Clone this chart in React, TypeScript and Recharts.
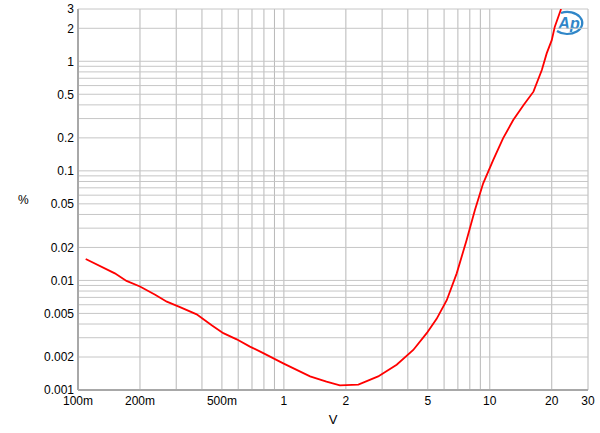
import React from 'react';
import { LineChart, Line, XAxis, YAxis, ReferenceLine, Customized } from 'recharts';

// distortion vs output voltage
const volts = [0.109, 0.151, 0.172, 0.2, 0.237, 0.27, 0.313, 0.377, 0.446, 0.508, 0.59, 0.684, 0.794, 0.993, 1.34, 1.61, 1.87, 2.3, 2.87, 3.53, 4.25, 4.94, 5.52, 6.18, 6.91, 7.72, 8.47, 9.29, 10.4, 11.6, 13.0, 14.6, 16.3, 17.9, 18.9, 20.0, 20.7, 22.2];
const percent = [0.0157, 0.0116, 0.0099, 0.0088, 0.0074, 0.0064, 0.0057, 0.0049, 0.0039, 0.0033, 0.0029, 0.00249, 0.00217, 0.00175, 0.00133, 0.00119, 0.0011, 0.00112, 0.00133, 0.0017, 0.00232, 0.0033, 0.00446, 0.0066, 0.0116, 0.0234, 0.044, 0.077, 0.126, 0.198, 0.291, 0.399, 0.528, 0.832, 1.18, 1.56, 2.07, 3.0];

const xTicks = [0.1, 0.2, 0.5, 1, 2, 5, 10, 20, 30];
const xTickLabels = ['100m', '200m', '500m', '1', '2', '5', '10', '20', '30'];
const yTicks = [0.001, 0.002, 0.005, 0.01, 0.02, 0.05, 0.1, 0.2, 0.5, 1, 2, 3];

const xGrid = [0.1, 0.2, 0.3, 0.4, 0.5, 0.6, 0.7, 0.8, 0.9, 1, 2, 3, 4, 5, 6, 7, 8, 9, 10, 20, 30];
const yGrid = [0.001, 0.002, 0.003, 0.004, 0.005, 0.006, 0.007, 0.008, 0.009, 0.01, 0.02, 0.03, 0.04, 0.05, 0.06, 0.07, 0.08, 0.09, 0.1, 0.2, 0.3, 0.4, 0.5, 0.6, 0.7, 0.8, 0.9, 1, 2, 3];

const data = volts.map((v, i) => ({ v, pct: percent[i] }));

const font = '"Liberation Sans", Arial, sans-serif';

const ApLogo = () => (
  <g>
    <path d="M 561 13 A 15 11 0 1 1 557 31" fill="none" stroke="#2f86c8" strokeWidth={2.2} />
    <text x={569} y={29} textAnchor="middle" fontFamily={font} fontSize={16} fontStyle="italic" fontWeight="bold" fill="#2f86c8">
      Ap
    </text>
  </g>
);

export default function App() {
  return (
    <div style={{ position: 'absolute', left: 0, top: 0 }}>
      <LineChart width={600} height={433} data={data} margin={{ top: 9, right: 12, left: 0, bottom: 0 }}>
        {xGrid.map((g) => (
          <ReferenceLine key={'x' + g} x={g} stroke="#b8b8b8" strokeWidth={1} />
        ))}
        {yGrid.map((g) => (
          <ReferenceLine key={'y' + g} y={g} stroke="#c6c6c6" strokeWidth={1} />
        ))}
        <XAxis
          dataKey="v"
          type="number"
          scale="log"
          domain={[0.1, 30]}
          ticks={xTicks}
          tickFormatter={(v) => xTickLabels[xTicks.indexOf(v)] ?? ''}
          allowDataOverflow
          height={43}
          tickLine={false}
          tickSize={0}
          tickMargin={6}
          axisLine={{ stroke: '#a8a8a8', strokeWidth: 2 }}
          tick={{ fontSize: 12, fill: '#000', fontFamily: font }}
          interval={0}
          label={{ value: 'V', position: 'insideBottom', offset: 9, fontSize: 13, fill: '#000', fontFamily: font }}
        />
        <YAxis
          dataKey="pct"
          type="number"
          scale="log"
          domain={[0.001, 3]}
          ticks={yTicks}
          allowDataOverflow
          width={78}
          tickLine={false}
          tickSize={0}
          tickMargin={4}
          axisLine={{ stroke: '#a8a8a8', strokeWidth: 2 }}
          tick={{ fontSize: 12, fill: '#000', fontFamily: font }}
          interval={0}
          label={{ value: '%', position: 'insideLeft', offset: 18, fontSize: 12, fill: '#000', fontFamily: font }}
        />
        <Line type="linear" dataKey="pct" stroke="#ff0000" strokeWidth={1.8} dot={false} isAnimationActive={false} />
        <Customized component={ApLogo} />
      </LineChart>
    </div>
  );
}
